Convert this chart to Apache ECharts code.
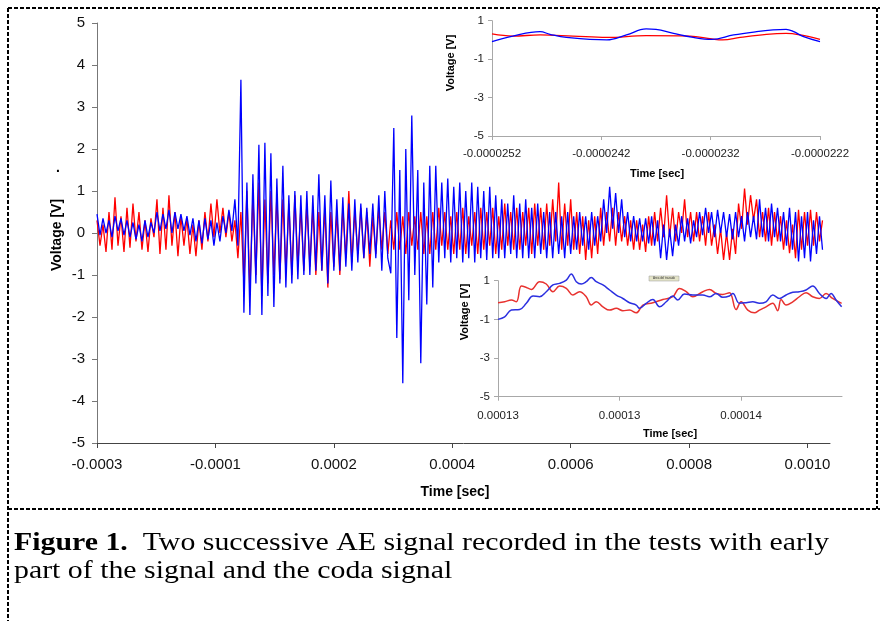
<!DOCTYPE html>
<html>
<head>
<meta charset="utf-8">
<script src="https://cdn.jsdelivr.net/npm/echarts@6/dist/echarts.min.js"></script>
<style>
html,body{margin:0;padding:0;background:#fff;}
#c{width:880px;height:621px;}
</style>
</head>
<body>
<div id="c"></div>
<script>
// ---------- DATA ----------
const mainTickLabels = ['-0.0003','-0.0001','0.0002','0.0004','0.0006','0.0008','0.0010'];
const mainSamplesPerTick = 39.5;
// main signal, one value per sample (Voltage [V])
const mainRed = [
 0.3,-0.3,0.2,-0.45,0.5,-0.4,0.85,-0.3,0.4,-0.45,
 0.6,-0.35,0.7,-0.2,0.5,-0.4,0.3,-0.45,0.35,-0.1,
 0.8,-0.5,0.6,-0.4,0.9,-0.3,0.5,-0.55,0.4,-0.3,
 0.35,-0.5,0.2,-0.55,0.3,-0.4,0.5,-0.2,0.7,-0.1,
 0.8,0.0,0.6,-0.1,0.5,-0.2,0.3,-0.6,0.5,-1.2,
 1.0,-1.4,0.9,-1.0,1.2,-1.5,0.8,-1.2,1.0,-1.0,
 0.9,-1.1,0.8,-0.9,0.7,-1.0,0.9,-0.8,0.6,-0.9,
 0.7,-0.8,0.6,-1.0,0.5,-0.9,0.6,-1.3,0.5,-0.8,
 0.5,-1.0,0.6,-0.6,1.0,-0.7,0.5,-0.5,0.6,-0.6,
 0.5,-0.8,0.4,-0.5,0.6,-0.4,0.5,-0.5,0.3,-0.4,
 0.5,-0.4,0.4,-0.5,0.5,-0.3,0.4,-0.4,0.5,-0.5,
 0.4,-0.5,0.5,-0.4,0.6,-0.3,0.5,-0.4,0.4,-0.5,
 0.5,-0.4,0.6,-0.5,0.4,-0.3,0.5,-0.5,0.6,-0.4,
 0.5,-0.3,0.6,-0.5,0.4,-0.4,0.7,-0.3,0.5,-0.4,
 0.6,-0.4,0.5,-0.3,0.6,-0.5,0.7,-0.3,0.6,-0.4,
 0.7,-0.3,0.8,-0.2,1.2,-0.4,0.7,-0.3,0.8,-0.4,
 0.5,-0.5,0.4,-0.64,0.3,-0.6,0.4,-0.5,0.6,-0.3,
 0.5,-0.2,0.6,-0.3,0.5,-0.2,0.4,-0.3,0.3,-0.4,
 0.3,-0.4,0.2,-0.45,0.4,-0.3,0.5,-0.2,0.6,-0.1,
 0.9,-0.1,0.6,-0.2,0.5,0.0,0.8,-0.1,0.5,-0.2,
 0.5,-0.2,0.4,-0.3,0.5,-0.3,0.2,-0.5,0.1,-0.64,
 0.0,-0.64,0.1,-0.5,0.7,0.1,1.06,0.2,0.9,0.3,
 0.8,-0.1,0.5,-0.2,0.6,-0.3,0.5,-0.2,0.4,-0.4,
 0.3,-0.48,0.2,-0.6,0.55,-0.4,0.5,-0.3,0.55,-0.3,
 0.5,-0.2,0.3
];
const mainBlue = [
 0.45,-0.05,0.35,0.0,0.3,-0.1,0.4,0.05,0.35,-0.05,
 0.3,-0.1,0.25,-0.15,0.2,-0.2,0.3,-0.1,0.25,0.0,
 0.5,0.05,0.45,0.1,0.55,0.0,0.5,0.1,0.45,0.05,
 0.4,-0.05,0.35,-0.2,0.3,-0.25,0.35,-0.15,0.3,-0.3,
 0.25,-0.2,0.4,0.0,0.55,0.05,0.8,-0.3,3.65,-1.9,
 1.2,-1.95,1.4,-1.2,2.1,-1.95,2.15,-1.5,1.9,-1.76,
 1.3,-1.2,1.6,-1.3,0.9,-1.2,1.0,-1.1,0.9,-1.0,
 1.0,-1.0,0.9,-0.9,1.4,-0.9,0.9,-1.2,1.25,-0.9,
 0.8,-0.9,0.85,-0.8,0.7,-0.9,0.8,-0.7,0.7,-0.6,
 0.6,-0.5,0.7,-0.6,0.9,-0.9,1.0,-0.6,-0.96,2.5,
 -2.5,1.5,-3.58,2.0,-1.6,2.8,-1.0,1.5,-3.1,1.2,
 -1.7,1.6,-1.3,1.6,-0.7,1.2,-0.6,1.3,-0.7,1.1,
 -0.6,1.2,-0.7,1.0,-0.6,1.2,-0.7,1.1,-0.6,1.0,
 -0.64,1.1,-0.6,0.9,-0.6,0.8,-0.6,0.7,-0.5,0.9,
 -0.6,0.7,-0.6,0.8,-0.6,0.6,-0.6,0.7,-0.5,0.5,
 -0.6,0.5,-0.6,0.5,-0.5,0.4,-0.6,0.5,-0.5,0.4,
 -0.4,0.5,-0.3,0.4,-0.4,0.5,-0.3,0.4,-0.2,0.8,
 0.0,1.1,0.1,0.95,0.0,0.8,-0.1,0.5,-0.2,0.4,
 -0.2,0.35,-0.2,0.35,-0.25,0.4,-0.3,0.3,-0.6,0.2,
 -0.64,0.1,-0.55,0.2,-0.3,0.4,-0.2,0.35,-0.25,0.3,
 -0.1,0.5,-0.05,0.6,0.0,0.5,-0.1,0.55,0.0,0.5,
 -0.1,0.45,-0.15,0.5,-0.1,0.4,-0.2,0.5,-0.1,0.4,
 -0.15,0.8,-0.1,0.6,-0.2,0.7,-0.1,0.6,-0.2,0.5,
 -0.3,0.6,-0.4,0.5,-0.68,0.4,-0.6,0.5,-0.68,0.3,
 -0.5,0.4,-0.4
];

// inset 1 (early part), x in tick units [0..3]
const inset1TickLabels = ['-0.0000252','-0.0000242','-0.0000232','-0.0000222'];
const inset1Blue = [[0,-0.09],[0.19,0.2],[0.44,0.43],[0.53,0.29],[0.68,0.13],[1.05,0.0],[1.23,0.26],[1.41,0.57],[1.5,0.55],[1.66,0.34],[1.84,0.13],[2.01,0.03],[2.21,0.26],[2.42,0.43],[2.57,0.52],[2.69,0.55],[2.76,0.43],[2.85,0.17],[3.0,-0.09]];
const inset1Red = [[0,0.31],[0.19,0.2],[0.44,0.26],[0.74,0.2],[1.05,0.13],[1.41,0.22],[1.81,0.2],[2.01,0.05],[2.11,0.0],[2.27,0.13],[2.51,0.29],[2.69,0.34],[2.82,0.26],[3.0,0.03]];

// inset 2 (coda), x in tick units
const inset2TickLabels = ['0.00013','0.00013','0.00014'];
const inset2Blue = [[0,-1.0],[0.055,-0.87],[0.11,-0.52],[0.178,-0.49],[0.233,-0.17],[0.288,0.21],[0.342,0.17],[0.397,0.43],[0.452,0.78],[0.507,0.86],[0.562,1.03],[0.603,1.35],[0.644,0.95],[0.685,0.83],[0.726,0.95],[0.767,1.17],[0.808,0.95],[0.863,0.78],[0.918,0.52],[0.973,0.26],[1.027,0.08],[1.082,-0.14],[1.137,-0.26],[1.164,-0.43],[1.219,-0.17],[1.274,0.03],[1.329,-0.35],[1.384,-0.09],[1.438,0.21],[1.479,0.0],[1.534,0.31],[1.603,0.26],[1.685,0.26],[1.74,0.17],[1.795,0.34],[1.849,0.14],[1.904,0.21],[1.932,0.34],[1.986,-0.17],[2.041,-0.14],[2.096,-0.09],[2.151,-0.17],[2.205,-0.09],[2.26,0.26],[2.315,0.08],[2.37,0.26],[2.425,0.4],[2.479,0.43],[2.534,0.52],[2.589,0.72],[2.644,0.34],[2.699,0.08],[2.74,0.34],[2.781,0.0],[2.827,-0.35]];
const inset2Red = [[0,-0.14],[0.055,-0.09],[0.11,0.0],[0.151,-0.09],[0.192,0.72],[0.233,0.65],[0.274,0.55],[0.342,0.95],[0.397,0.83],[0.452,0.43],[0.507,0.72],[0.562,0.6],[0.616,0.26],[0.671,0.43],[0.726,0.17],[0.767,-0.26],[0.808,-0.09],[0.863,-0.35],[0.918,-0.52],[0.973,-0.43],[1.027,-0.55],[1.082,-0.52],[1.137,-0.66],[1.192,-0.26],[1.274,-0.14],[1.356,0.03],[1.438,0.17],[1.493,0.6],[1.548,0.43],[1.603,0.17],[1.685,0.43],[1.74,0.55],[1.795,0.34],[1.849,0.29],[1.904,0.38],[1.959,-0.49],[2.0,-0.09],[2.055,-0.52],[2.11,-0.66],[2.151,-0.52],[2.205,-0.35],[2.26,-0.17],[2.301,-0.55],[2.329,0.03],[2.37,-0.26],[2.425,-0.09],[2.479,0.17],[2.534,0.38],[2.589,0.17],[2.644,0.08],[2.699,0.34],[2.753,0.08],[2.827,-0.17]];

// ---------- CHART ----------
const RED = '#ff0000', BLUE = '#0000ff';
const SANS = 'Arial, "Liberation Sans", sans-serif';
const SERIF = '"Times New Roman", "Liberation Serif", serif';
const toPairs = arr => arr.map((v, i) => [i, v]);
const mainTickValues = mainTickLabels.map((_, i) => i * mainSamplesPerTick);

const chart = echarts.init(document.getElementById('c'), null, {renderer: 'canvas'});

function insetX(idx, labels, max, margin) {
  const vals = labels.map((_, i) => i);
  return {
    gridIndex: idx, type: 'value', min: 0, max: max, interval: 1,
    axisLine: {show: true, onZero: false, lineStyle: {color: '#a8a8a8', width: 1}},
    axisTick: {show: true, length: 4, customValues: vals, lineStyle: {color: '#a8a8a8'}},
    axisLabel: {customValues: vals, formatter: v => labels[Math.round(v)], fontSize: 11.5, color: '#222', fontFamily: SANS, margin: margin},
    splitLine: {show: false}
  };
}
function insetY(idx) {
  return {
    gridIndex: idx, type: 'value', min: -5, max: 1, interval: 2,
    axisLine: {show: true, lineStyle: {color: '#a8a8a8', width: 1}},
    axisTick: {show: true, length: 4, lineStyle: {color: '#a8a8a8'}},
    axisLabel: {fontSize: 11.5, color: '#222', fontFamily: SANS, margin: 8},
    splitLine: {show: false}
  };
}
const txt = (x, y, text, font, extra) => Object.assign({type: 'text', x: x, y: y, style: {text: text, font: font, fill: '#000', align: 'center', verticalAlign: 'middle', textAlign: 'center', textVerticalAlign: 'middle'}}, extra || {});
const dash = (x1, y1, x2, y2) => ({type: 'line', shape: {x1: x1, y1: y1, x2: x2, y2: y2}, style: {stroke: '#000', lineWidth: 2, lineDash: [4, 2]}});

const option = {
  animation: false,
  backgroundColor: '#fff',
  grid: [
    {left: 97, top: 23, width: 733, height: 420, containLabel: false, outerBoundsMode: 'none'},
    {left: 492, top: 20.7, width: 328, height: 115.3, containLabel: false, outerBoundsMode: 'none'},
    {left: 498, top: 280.7, width: 344, height: 116, containLabel: false, outerBoundsMode: 'none'}
  ],
  xAxis: [
    {
      gridIndex: 0, type: 'value', min: 0, max: 244.5, interval: mainSamplesPerTick,
      axisLine: {show: true, onZero: false, lineStyle: {color: '#444', width: 1}},
      axisTick: {show: true, length: 5, customValues: mainTickValues, lineStyle: {color: '#444'}},
      axisLabel: {customValues: mainTickValues, formatter: v => mainTickLabels[Math.round(v / mainSamplesPerTick)], fontSize: 15, color: '#111', fontFamily: SANS, margin: 14},
      splitLine: {show: false}
    },
    insetX(1, inset1TickLabels, 3, 12),
    insetX(2, inset2TickLabels, 2.83, 13)
  ],
  yAxis: [
    {
      gridIndex: 0, type: 'value', min: -5, max: 5, interval: 1,
      axisLine: {show: true, lineStyle: {color: '#777', width: 1}},
      axisTick: {show: true, length: 5, lineStyle: {color: '#777'}},
      axisLabel: {fontSize: 15, color: '#111', fontFamily: SANS, margin: 12},
      splitLine: {show: false}
    },
    insetY(1),
    insetY(2)
  ],
  series: [
    {type: 'line', xAxisIndex: 0, yAxisIndex: 0, data: toPairs(mainRed), showSymbol: false, symbol: 'none', lineStyle: {color: RED, width: 1.3}, z: 2},
    {type: 'line', xAxisIndex: 0, yAxisIndex: 0, data: toPairs(mainBlue), showSymbol: false, symbol: 'none', lineStyle: {color: BLUE, width: 1.3}, z: 3},
    {type: 'line', xAxisIndex: 1, yAxisIndex: 1, data: inset1Red, showSymbol: false, symbol: 'none', smooth: 0.4, clip: false, lineStyle: {color: RED, width: 1.3}, z: 4},
    {type: 'line', xAxisIndex: 1, yAxisIndex: 1, data: inset1Blue, showSymbol: false, symbol: 'none', smooth: 0.4, clip: false, lineStyle: {color: BLUE, width: 1.3}, z: 5},
    {type: 'line', xAxisIndex: 2, yAxisIndex: 2, data: inset2Red, showSymbol: false, symbol: 'none', smooth: 0.4, clip: false, lineStyle: {color: '#e8322f', width: 1.5}, z: 4},
    {type: 'line', xAxisIndex: 2, yAxisIndex: 2, data: inset2Blue, showSymbol: false, symbol: 'none', smooth: 0.4, clip: false, lineStyle: {color: '#2b2fe0', width: 1.5}, z: 5}
  ],
  graphic: [
    // dashed frame and separator
    dash(8, 8, 880, 8),
    dash(8, 8, 8, 621),
    dash(877, 8, 877, 509),
    dash(8, 509, 880, 509),
    // main titles
    txt(57, 235, 'Voltage [V]', 'bold 14px ' + SANS, {rotation: Math.PI / 2}),
    txt(58, 168, '.', 'bold 14px ' + SANS),
    txt(455, 492, 'Time [sec]', 'bold 14px ' + SANS),
    // inset 1 titles
    txt(451, 63, 'Voltage [V]', 'bold 11px ' + SANS, {rotation: Math.PI / 2}),
    txt(657, 174, 'Time [sec]', 'bold 11px ' + SANS),
    // inset 2 titles
    txt(465, 312, 'Voltage [V]', 'bold 11px ' + SANS, {rotation: Math.PI / 2}),
    txt(670, 434, 'Time [sec]', 'bold 11px ' + SANS),
    // tiny plot-area tag
    {type: 'rect', shape: {x: 649, y: 276, width: 30, height: 5}, style: {fill: '#e4e4c8', stroke: '#999', lineWidth: 0.5}, z: 10},
    txt(664, 278.5, 'Área del trazado', '3px ' + SANS, {z: 11, style: {text: 'Área del trazado', font: '3px ' + SANS, fill: '#333', align: 'center', verticalAlign: 'middle', textAlign: 'center', textVerticalAlign: 'middle'}}),
    // caption
    {type: 'text', x: 14, y: 543, scaleX: 1.17, style: {text: '{b|Figure 1.}  Two successive AE signal recorded in the tests with early', font: '25.5px ' + SERIF, fill: '#000', align: 'left', verticalAlign: 'middle', textAlign: 'left', textVerticalAlign: 'middle', rich: {b: {fontWeight: 'bold', fontSize: 25.5, fontFamily: SERIF, fill: '#000'}}}},
    {type: 'text', x: 14, y: 571, scaleX: 1.17, style: {text: 'part of the signal and the coda signal', font: '25.5px ' + SERIF, fill: '#000', align: 'left', verticalAlign: 'middle', textAlign: 'left', textVerticalAlign: 'middle'}}
  ]
};
chart.setOption(option);
</script>
</body>
</html>
